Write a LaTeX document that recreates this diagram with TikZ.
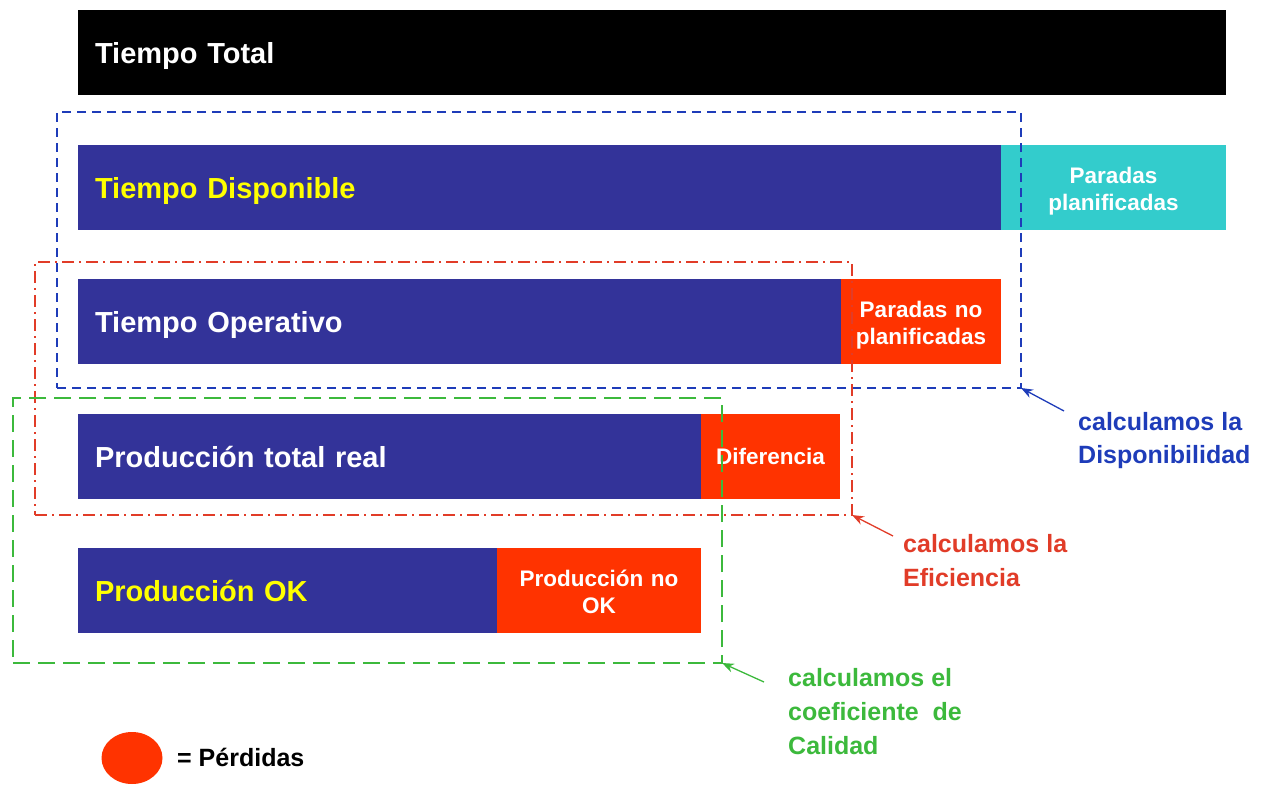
\documentclass[tikz,border=0pt]{standalone}
\usepackage{fontspec}
\setmainfont{Liberation Sans}
\usetikzlibrary{arrows.meta,calc,shapes.geometric}

\definecolor{barnavy}{RGB}{51,51,153}
\definecolor{plancyan}{RGB}{51,204,204}
\definecolor{lossred}{RGB}{255,51,0}
\definecolor{lblyellow}{RGB}{255,255,0}
\definecolor{dispblue}{RGB}{30,60,185}
\definecolor{efred}{RGB}{225,60,40}
\definecolor{qgreen}{RGB}{60,185,60}

\tikzset{
  seg/.style={anchor=north west, minimum height=85pt, inner ysep=0pt, outer sep=0pt},
  lead/.style={seg, text depth=0pt, fill=barnavy, align=left, inner xsep=17pt,
    font=\fontsize{29}{34}\selectfont\bfseries},
  lossbox/.style={seg, fill=lossred, align=center, inner xsep=0pt, text=white,
    font=\fontsize{22.5}{27}\selectfont\bfseries},
  twoline/.style={text depth=24pt},
  frame/.style={anchor=north west, inner sep=0pt, outer sep=0pt, line width=2pt},
  note/.style={anchor=north west, align=left, inner sep=0pt,
    font=\fontsize{25}{#1}\selectfont\bfseries},
  pointer/.style={line width=1.3pt, -{Stealth[length=12pt,width=9pt]}}
}

\begin{document}
\begin{tikzpicture}[x=1pt,y=-1pt]
\useasboundingbox (0,0) rectangle (1278,785);

% time bars
\node[lead, fill=black, text=white, text width=1114pt] (total) at (78,10) {Tiempo Total};

\node[lead, text=lblyellow, text width=889pt] (disp) at (78,145) {Tiempo Disponible};
\node[lossbox, twoline, fill=plancyan, text width=225pt] (plan) at (disp.north east) {Paradas\\planificadas};

\node[lead, text=white, text width=729pt] (oper) at (78,279) {Tiempo Operativo};
\node[lossbox, twoline, text width=160pt] (unplan) at (oper.north east) {Paradas no\\planificadas};

\node[lead, text=white, text width=589pt] (real) at (78,414) {Producción total real};
\node[lossbox, text depth=0pt, text width=139pt] (diff) at (real.north east) {Diferencia};

\node[lead, text=lblyellow, text width=385pt] (ok) at (78,548) {Producción OK};
\node[lossbox, twoline, text width=204pt] (notok) at (ok.north east) {Producción no\\OK};

% indicator frames
\node[frame, draw=dispblue, dash pattern=on 9pt off 6pt,
  minimum width=964pt, minimum height=276pt] (dispframe) at (57,112) {};
\node[frame, draw=efred, dash pattern=on 12pt off 5pt on 2pt off 5pt,
  minimum width=817pt, minimum height=253pt] (efframe) at (35,262) {};
\node[frame, draw=qgreen, dash pattern=on 17pt off 8pt,
  minimum width=709pt, minimum height=265pt] (qframe) at (13,398) {};

% indicator labels
\node[note=33, text=dispblue] (displbl) at (1078,412) {calculamos la\\Disponibilidad};
\node[note=34, text=efred] (eflbl) at (903,534) {calculamos la\\Eficiencia};
\node[note=34, text=qgreen] (qlbl) at (788,668) {calculamos el\\coeficiente~ de\\Calidad};

\draw[pointer, dispblue] ($(displbl.north west)+(-14,-1)$) -- (dispframe.south east);
\draw[pointer, efred] ($(eflbl.north west)+(-10,2)$) -- (efframe.south east);
\draw[pointer, qgreen] ($(qlbl.north west)+(-24,14)$) -- (qframe.south east);

% legend
\node[ellipse, fill=lossred, inner sep=0pt, minimum width=61pt, minimum height=52pt] (legdot) at (132,758) {};
\node[anchor=west, inner sep=0pt, font=\fontsize{25}{30}\selectfont\bfseries] (legtxt) at (177,757) {= Pérdidas};
\end{tikzpicture}
\end{document}
